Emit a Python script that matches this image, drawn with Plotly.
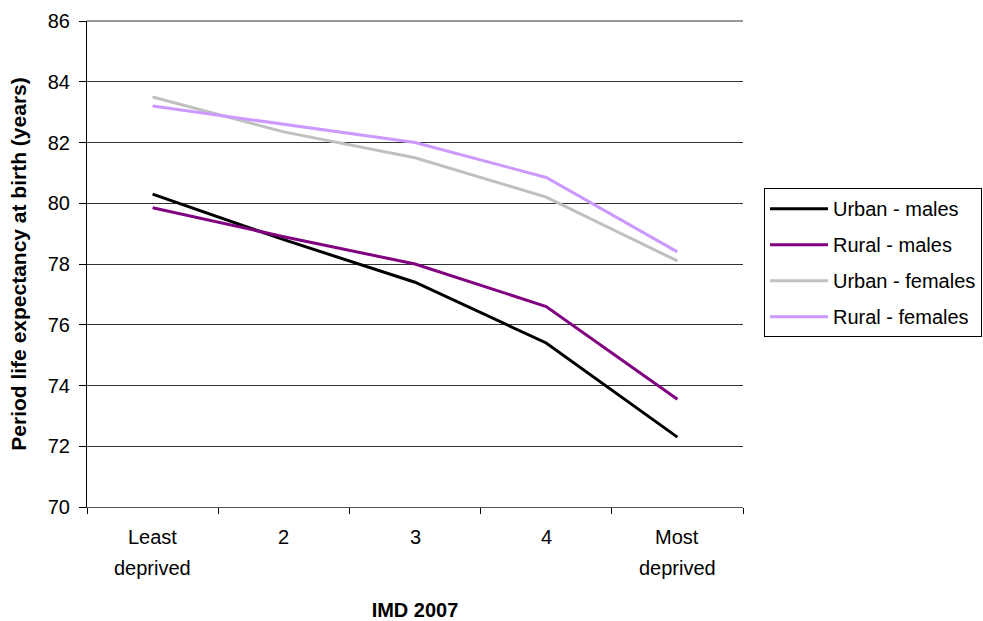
import plotly.graph_objects as go

categories = ["Least deprived", "2", "3", "4", "Most deprived"]
tick_line1 = ["Least", "2", "3", "4", "Most"]
tick_line2 = ["deprived", "", "", "", "deprived"]

urban_males = [80.3, 78.8, 77.4, 75.4, 72.3]
rural_males = [79.85, 78.9, 78.0, 76.6, 73.55]
urban_females = [83.5, 82.35, 81.5, 80.2, 78.1]
rural_females = [83.2, 82.6, 82.0, 80.85, 78.4]

series = [
    ("Urban - males", urban_males, "#000000"),
    ("Rural - males", rural_males, "#800080"),
    ("Urban - females", urban_females, "#C0C0C0"),
    ("Rural - females", rural_females, "#CC99FF"),
]

FONT = "Liberation Sans, Arial, sans-serif"
FS = 20

fig = go.Figure()
for i, (name, vals, color) in enumerate(series):
    fig.add_trace(go.Scatter(
        x=categories, y=vals, mode="lines", name=name,
        line=dict(color=color, width=3), legendgroup=f"g{i}",
    ))

annotations = []
for idx, (l1, l2) in enumerate(zip(tick_line1, tick_line2)):
    annotations.append(dict(x=idx, xref="x", y=0, yref="y domain", yshift=-30, yanchor="middle",
                            text=l1, showarrow=False, font=dict(family=FONT, size=FS, color="#000")))
    if l2:
        annotations.append(dict(x=idx, xref="x", y=0, yref="y domain", yshift=-61, yanchor="middle",
                                text=l2, showarrow=False, font=dict(family=FONT, size=FS, color="#000")))

fig.update_layout(
    width=983, height=621,
    margin=dict(l=87, r=240, t=21, b=114, autoexpand=False),
    paper_bgcolor="white", plot_bgcolor="white",
    font=dict(family=FONT, size=FS, color="#000"),
    showlegend=True,
    legend=dict(
        x=1.032, y=0.656, xanchor="left", yanchor="top",
        bordercolor="#000", borderwidth=1, bgcolor="white",
        font=dict(family=FONT, size=FS, color="#000"),
        tracegroupgap=7, traceorder="grouped", itemwidth=58,
    ),
    annotations=annotations,
    xaxis=dict(
        type="category", showticklabels=False, tickson="boundaries",
        ticks="outside", ticklen=6, tickcolor="#000", automargin=False,
        showline=True, linecolor="#555", linewidth=1, showgrid=False,
        title=dict(text="<b>IMD 2007</b>", font=dict(family=FONT, size=FS), standoff=95),
        range=[-0.5, 4.5], fixedrange=True,
    ),
    yaxis=dict(
        range=[70, 86], dtick=2, tick0=70, automargin=False,
        ticks="outside", ticklen=7, tickcolor="#000",
        showline=True, linecolor="#000", linewidth=1,
        showgrid=True, gridcolor="#333", gridwidth=1,
        zeroline=False, ticklabelstandoff=5,
        tickfont=dict(family=FONT, size=FS),
        title=dict(text="<b>Period life expectancy at birth (years)</b>",
                   font=dict(family=FONT, size=21), standoff=15),
    ),
)
fig.add_shape(type="line", xref="paper", yref="paper", x0=0, x1=1, y0=1, y1=1,
              line=dict(color="#333", width=1))

fig.write_html("out.html")
